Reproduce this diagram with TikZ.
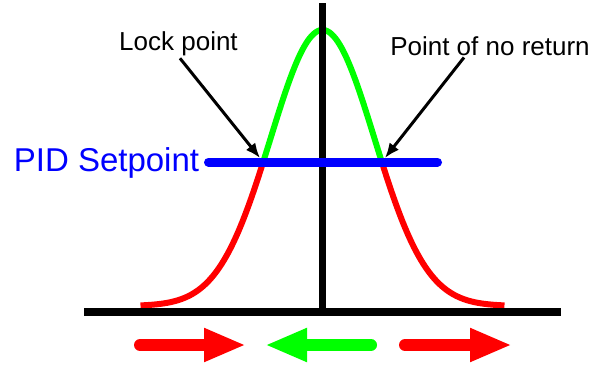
\documentclass[tikz,border=0pt]{standalone}
\usepackage{fontspec}
\setmainfont{Liberation Sans}
\usetikzlibrary{arrows.meta}

\definecolor{redcol}{RGB}{255,0,0}
\definecolor{greencol}{RGB}{0,255,0}
\definecolor{bluecol}{RGB}{0,0,255}

\tikzset{
  axis line/.style={black, line width=7.5pt},
  curve seg/.style={line width=6pt, line cap=butt},
  setpoint line/.style={bluecol, line width=9pt, line cap=round},
  label text/.style={anchor=base, inner sep=2pt, font=\fontsize{26}{30}\selectfont},
  pointer/.style={-{Latex[length=15pt,width=12pt]}, black, line width=3pt, shorten >=5pt},
  dir arrow/.style={-{Triangle[length=42pt,width=31pt]}, line width=12pt, line cap=round},
}

\begin{document}
\begin{tikzpicture}[x=1pt, y=-1pt]
    \useasboundingbox (0,0) rectangle (594,364);
    % sigma = 52, peak at x=322.5, base y=306, height 276
    % setpoint y=162 crosses the curve at +-59.3

    % === Curve ===
    \draw[curve seg, redcol] plot[domain=-3.5:-1.1407, samples=60, smooth]
      ({322.5+52*\x}, {306-276*exp(-\x*\x/2)});
    \draw[curve seg, greencol] plot[domain=-1.1407:1.1407, samples=60, smooth]
      ({322.5+52*\x}, {306-276*exp(-\x*\x/2)});
    \draw[curve seg, redcol] plot[domain=1.1407:3.5, samples=60, smooth]
      ({322.5+52*\x}, {306-276*exp(-\x*\x/2)});

    % === Axes ===
    \coordinate (ytop) at (322.5,3);
    \coordinate (yfoot) at (322.5,312);
    \coordinate (xl) at (84,312);
    \coordinate (xr) at (561,312);
    \draw[axis line] (ytop) -- (yfoot);
    \draw[axis line, line width=8pt] (xl) -- (xr);

    % === Setpoint ===
    \node[label text, text=bluecol, font=\fontsize{33}{38}\selectfont]
      (pid) at (106.5,171) {PID Setpoint};
    \coordinate (spL) at (208.5,162);
    \coordinate (spR) at (437.5,162);
    \draw[setpoint line] (spL) -- (spR);

    % crossing points
    \coordinate (lock) at (263.2,162);
    \coordinate (noreturn) at (381.8,162);

    % === Labels ===
    \node[label text] (lockpt) at (178.5,50.7) {Lock point};
    \node[label text] (noret) at (490,55) {Point of no return};
    \draw[pointer] ([xshift=1.5pt]lockpt.south) -- (lock);
    \draw[pointer] ([xshift=-26pt]noret.south) -- (noreturn);

    % === Direction arrows ===
    \coordinate (ra1) at (140,345);
    \coordinate (rb1) at (246,345);
    \coordinate (ga) at (371,345);
    \coordinate (gb) at (265,345);
    \coordinate (ra2) at (405,345);
    \coordinate (rb2) at (512,345);
    \draw[dir arrow, redcol] (ra1) -- (rb1);
    \draw[dir arrow, greencol] (ga) -- (gb);
    \draw[dir arrow, redcol] (ra2) -- (rb2);
\end{tikzpicture}
\end{document}
